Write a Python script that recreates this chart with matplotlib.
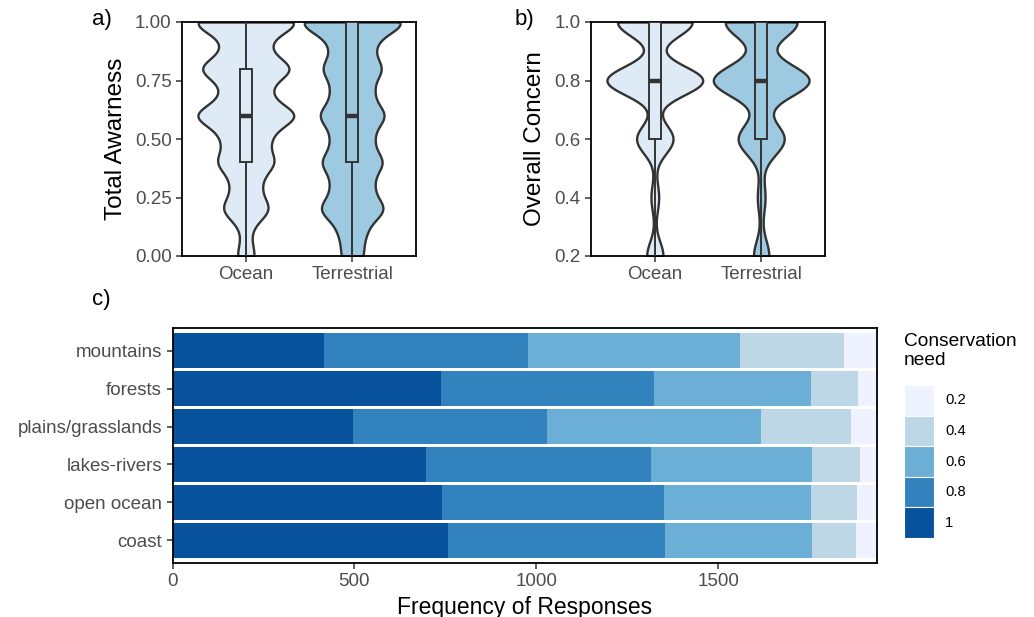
import numpy as np
import matplotlib.pyplot as plt
from matplotlib.patches import Rectangle

plt.rcParams['font.family'] = ['Liberation Sans', 'DejaVu Sans']

# a) Total awareness: score levels and approximate number of respondents
aware_levels = [0.0, 0.1, 0.2, 0.3, 0.4, 0.5, 0.6, 0.7, 0.8, 0.9, 1.0]
aware_ocean = [7.5, 3.5, 20, 11, 24, 18, 43, 17, 38.5, 16, 45]
aware_terr = [9.5, 11, 28, 16.5, 26.5, 16.5, 28.5, 16.5, 25.5, 17, 47]
# box stats: min, q1, median, q3, max
aware_box_ocean = [0.0, 0.4, 0.6, 0.8, 1.0]
aware_box_terr = [0.0, 0.4, 0.6, 1.0, 1.0]

# b) Overall concern
concern_levels = [0.2, 0.4, 0.6, 0.8, 1.0]
concern_ocean = [17, 8, 38, 100, 78]
concern_terr = [16, 8, 48, 100, 75]
concern_box_ocean = [0.2, 0.6, 0.8, 1.0, 1.0]
concern_box_terr = [0.2, 0.6, 0.8, 1.0, 1.0]

groups = ['Ocean', 'Terrestrial']

# c) conservation need per habitat
habitats = ['mountains', 'forests', 'plains/grasslands', 'lakes-rivers', 'open ocean', 'coast']
need_levels = ['1', '0.8', '0.6', '0.4', '0.2']
need_counts = {
    '1':   [416, 737, 497, 696, 741, 758],
    '0.8': [560, 587, 531, 620, 611, 597],
    '0.6': [584, 430, 589, 441, 402, 404],
    '0.4': [285, 130, 247, 132, 128, 121],
    '0.2': [90, 51, 71, 46, 53, 55],
}
need_colors = {'1': '#08519c', '0.8': '#3182bd', '0.6': '#6baed6',
               '0.4': '#bdd7e7', '0.2': '#eff3ff'}

violin_colors = ['#deebf7', '#9ecae1']
dark = '#333333'
tick_col = '#4d4d4d'


def style_axes(ax):
    for s in ax.spines.values():
        s.set_color('black')
        s.set_linewidth(1.3)
    ax.tick_params(direction='out', length=4, width=1.1, color=dark,
                   labelsize=13.5, labelcolor=tick_col)


def draw_violin(ax, pos, levels, counts, bw, box, color):
    lv = np.array(levels)
    c = np.array(counts, dtype=float)
    y = np.linspace(lv.min(), lv.max(), 500)
    dens = (c[:, None] * np.exp(-0.5 * ((y[None, :] - lv[:, None]) / bw) ** 2)).sum(0)
    half = 0.45 * dens / dens.max()
    ax.fill_betweenx(y, pos - half, pos + half, facecolor=color,
                     edgecolor=dark, linewidth=1.7, zorder=2)
    lo, q1, med, q3, hi = box
    ax.plot([pos, pos], [lo, q1], color=dark, lw=1.4, zorder=3)
    ax.plot([pos, pos], [q3, hi], color=dark, lw=1.4, zorder=3)
    ax.add_patch(Rectangle((pos - 0.055, q1), 0.11, q3 - q1, facecolor=color,
                           edgecolor=dark, linewidth=1.4, zorder=4))
    ax.plot([pos - 0.055, pos + 0.055], [med, med], color=dark, lw=3.2, zorder=5,
            solid_capstyle='butt')


fig = plt.figure(figsize=(10.34, 6.17), dpi=100)

ax_a = fig.add_axes([182 / 1034, 1 - 256 / 617, 234 / 1034, 234 / 617])
draw_violin(ax_a, 1, aware_levels, aware_ocean, 0.05, aware_box_ocean, violin_colors[0])
draw_violin(ax_a, 2, aware_levels, aware_terr, 0.05, aware_box_terr, violin_colors[1])
ax_a.set_xlim(0.4, 2.6)
ax_a.set_ylim(0, 1)
ax_a.set_xticks([1, 2], groups)
ax_a.set_yticks([0, 0.25, 0.5, 0.75, 1.0], ['0.00', '0.25', '0.50', '0.75', '1.00'])
ax_a.set_ylabel('Total Awarness', fontsize=17.5, labelpad=6)
style_axes(ax_a)

ax_b = fig.add_axes([591 / 1034, 1 - 256 / 617, 234 / 1034, 234 / 617])
draw_violin(ax_b, 1, concern_levels, concern_ocean, 0.05, concern_box_ocean, violin_colors[0])
draw_violin(ax_b, 2, concern_levels, concern_terr, 0.055, concern_box_terr, violin_colors[1])
ax_b.set_xlim(0.4, 2.6)
ax_b.set_ylim(0.2, 1)
ax_b.set_xticks([1, 2], groups)
ax_b.set_yticks([0.2, 0.4, 0.6, 0.8, 1.0], ['0.2', '0.4', '0.6', '0.8', '1.0'])
ax_b.set_ylabel('Overall Concern', fontsize=17.5, labelpad=6)
style_axes(ax_b)

ax_c = fig.add_axes([172.5 / 1034, 1 - 563 / 617, 704 / 1034, 235 / 617])
ypos = np.arange(len(habitats))[::-1]
left = np.zeros(len(habitats))
for lvl in need_levels:
    vals = np.array(need_counts[lvl])
    ax_c.barh(ypos, vals, left=left, height=0.92, color=need_colors[lvl],
              linewidth=0, label=lvl)
    left += vals
ax_c.set_xlim(0, left.max())
ax_c.set_ylim(-0.6, len(habitats) - 0.4)
ax_c.set_yticks(ypos, habitats)
ax_c.set_xticks([0, 500, 1000, 1500])
ax_c.set_xlabel('Frequency of Responses', fontsize=16.5, labelpad=4)
style_axes(ax_c)

# legend drawn as keys in a pixel-space overlay
ax_leg = fig.add_axes([0, 0, 1, 1], facecolor='none')
ax_leg.set_xlim(0, 1034)
ax_leg.set_ylim(617, 0)
ax_leg.axis('off')
ax_leg.text(904, 351, 'Conservation\nneed', fontsize=13.8, va='center', ha='left',
            linespacing=1.2)
key_top, key_h = 385, 30.6
for i, lvl in enumerate(need_levels[::-1]):
    y0 = key_top + i * key_h
    ax_leg.add_patch(Rectangle((904, y0), 30, key_h, facecolor=need_colors[lvl],
                               edgecolor='white', linewidth=0.8))
    ax_leg.text(945, y0 + key_h / 2, lvl, fontsize=10.6, va='center', ha='left')

fig.text(92 / 1034, 1 - 20 / 617, 'a)', fontsize=16, va='center')
fig.text(515 / 1034, 1 - 20 / 617, 'b)', fontsize=16, va='center')
fig.text(92 / 1034, 1 - 300 / 617, 'c)', fontsize=16, va='center')

fig.savefig('out.png', dpi=100)
